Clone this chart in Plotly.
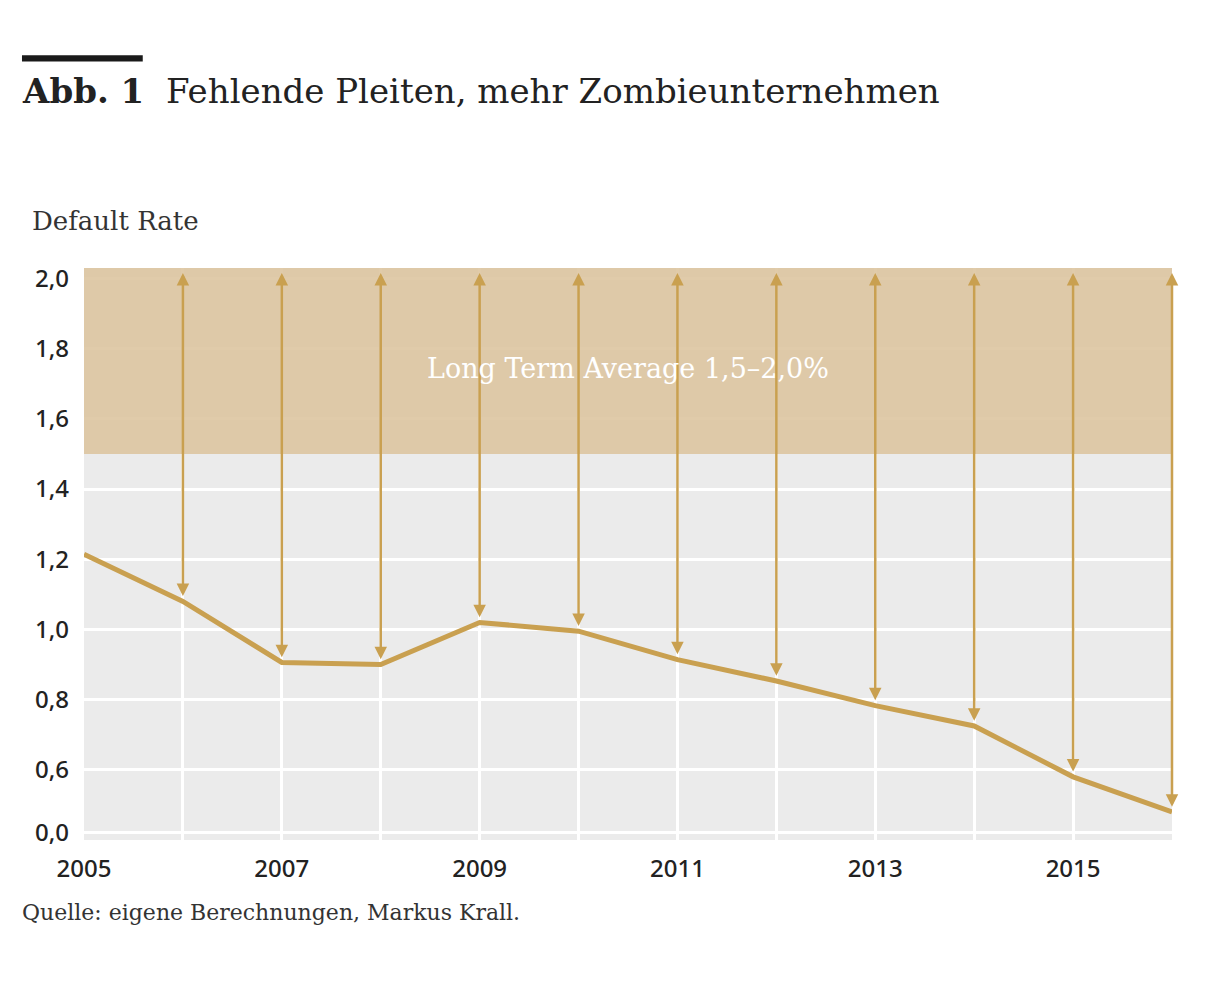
import plotly.graph_objects as go

years = list(range(2005, 2017))
default_rate = [1.214, 1.08, 0.906, 0.90, 1.02, 0.995, 0.914, 0.853, 0.783, 0.725, 0.58, 0.48]
y_tickvals = [0.42, 0.6, 0.8, 1.0, 1.2, 1.4, 1.6, 1.8, 2.0]
y_ticktext = ["0,0", "0,6", "0,8", "1,0", "1,2", "1,4", "1,6", "1,8", "2,0"]
x_tickvals = [2005, 2007, 2009, 2011, 2013, 2015]
band_low, band_high = 1.5, 2.03

gold = "#c9a050"

fig = go.Figure()
fig.add_scatter(x=years, y=default_rate, mode="lines",
                line=dict(color=gold, width=5), showlegend=False, hoverinfo="skip")

# long term average band
fig.add_shape(type="rect", xref="x", yref="y", x0=2005, x1=2016, y0=band_low, y1=band_high,
              fillcolor="rgba(220,196,158,0.88)", line_width=0, layer="above")

# double arrows from band top to the line
for yr, val in zip(years[1:], default_rate[1:]):
    fig.add_annotation(x=yr, y=val + 0.015, ax=yr, ay=2.02, xref="x", yref="y",
                       axref="x", ayref="y", text="", showarrow=True,
                       arrowhead=2, startarrowhead=2, arrowside="end+start",
                       arrowsize=1, startarrowsize=1, arrowwidth=2.5, arrowcolor=gold)

fig.add_annotation(x=2010.5, y=1.745, text="Long Term Average 1,5–2,0%", showarrow=False,
                   font=dict(family="DejaVu Serif", size=27, color="white"))

# title and labels
fig.add_shape(type="rect", xref="paper", yref="paper", x0=-0.057, x1=0.054,
              y0=1.361, y1=1.372, fillcolor="#1a1a1a", line_width=0)
fig.add_annotation(xref="paper", yref="paper", x=-0.059, y=1.31, xanchor="left", yanchor="middle",
                   text="<b>Abb. 1</b>  Fehlende Pleiten, mehr Zombieunternehmen", showarrow=False,
                   font=dict(family="DejaVu Serif", size=34, color="#222"))
fig.add_annotation(xref="paper", yref="paper", x=-0.050, y=1.083, xanchor="left", yanchor="middle",
                   text="Default Rate", showarrow=False,
                   font=dict(family="DejaVu Serif", size=26, color="#333"))
fig.add_annotation(xref="paper", yref="paper", x=-0.059, y=-0.127, xanchor="left", yanchor="middle",
                   text="Quelle: eigene Berechnungen, Markus Krall.", showarrow=False,
                   font=dict(family="DejaVu Serif", size=22, color="#333"))

fig.update_layout(
    width=1216, height=990,
    margin=dict(l=76, r=52, t=260, b=158),
    paper_bgcolor="white", plot_bgcolor="#ebebeb",
    font=dict(family="Noto Sans", size=24, color="#222", weight=500),
)
fig.update_xaxes(range=[2005, 2016], tickvals=years,
                 ticktext=[str(y) if y in x_tickvals else "" for y in years],
                 showgrid=True, gridcolor="white", gridwidth=2.5, zeroline=False,
                 showline=False, ticks="", ticklabelstandoff=12)
fig.update_yaxes(range=[0.4, band_high], tickvals=y_tickvals, ticktext=y_ticktext,
                 showgrid=True, gridcolor="white", gridwidth=2.5, zeroline=False,
                 ticks="", ticklabelstandoff=14)

fig.write_html("out.html")
